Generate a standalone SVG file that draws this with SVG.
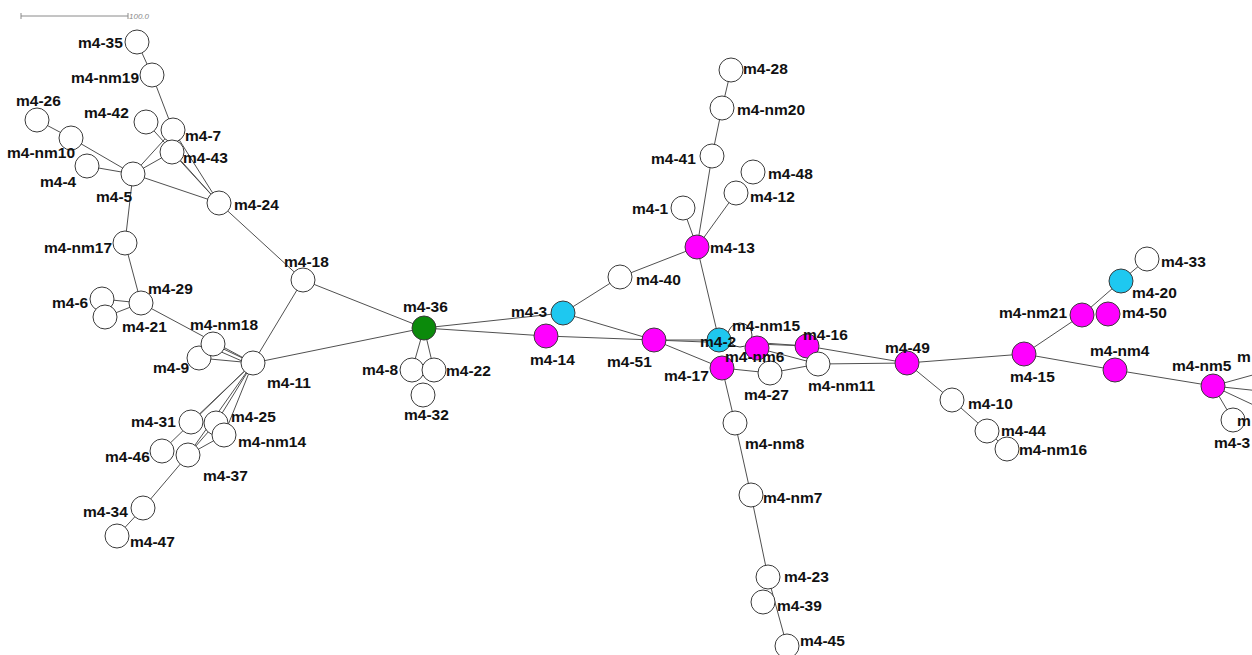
<svg xmlns="http://www.w3.org/2000/svg" width="1252" height="655" viewBox="0 0 1252 655">
<style>
.e{stroke:#505050;stroke-width:1;fill:none}
.n{stroke:#3a3a3a;stroke-width:1}
.w{fill:#ffffff}
.m{fill:#ff00ff}
.c{fill:#1ec8f0}
.g{fill:#0b8a0b}
text{font-family:"Liberation Sans",Arial,sans-serif;font-weight:bold;font-size:15.5px;fill:#111}
.sb{stroke:#8a8a8a;stroke-width:1}
.st{font-size:8px;font-style:italic;font-weight:normal;fill:#8a8a8a}
</style>
<rect width="1252" height="655" fill="#ffffff"/>
<g id="scalebar">
<line class="sb" x1="21" y1="16" x2="128" y2="16"/>
<line class="sb" x1="21" y1="13" x2="21" y2="19"/>
<line class="sb" x1="128" y1="13" x2="128" y2="19"/>
<text class="st" x="129" y="19">100.0</text>
</g>
<g id="connectors">
<line class="e" x1="137" y1="42" x2="152" y2="75"/>
<line class="e" x1="152" y1="75" x2="173" y2="130"/>
<line class="e" x1="37" y1="120" x2="71" y2="138"/>
<line class="e" x1="71" y1="138" x2="133" y2="174"/>
<line class="e" x1="87" y1="166" x2="133" y2="174"/>
<line class="e" x1="133" y1="174" x2="173" y2="130"/>
<line class="e" x1="133" y1="174" x2="172" y2="152"/>
<line class="e" x1="133" y1="174" x2="219" y2="203"/>
<line class="e" x1="146" y1="122" x2="219" y2="203"/>
<line class="e" x1="173" y1="130" x2="219" y2="203"/>
<line class="e" x1="172" y1="152" x2="219" y2="203"/>
<line class="e" x1="133" y1="174" x2="125" y2="243"/>
<line class="e" x1="125" y1="243" x2="141" y2="303"/>
<line class="e" x1="102" y1="299" x2="141" y2="303"/>
<line class="e" x1="105" y1="317" x2="141" y2="303"/>
<line class="e" x1="141" y1="303" x2="253" y2="363"/>
<line class="e" x1="213" y1="344" x2="253" y2="363"/>
<line class="e" x1="210" y1="347" x2="251" y2="365"/>
<line class="e" x1="199" y1="358" x2="253" y2="363"/>
<line class="e" x1="219" y1="203" x2="303" y2="280"/>
<line class="e" x1="303" y1="280" x2="253" y2="363"/>
<line class="e" x1="303" y1="280" x2="424" y2="328"/>
<line class="e" x1="253" y1="363" x2="424" y2="328"/>
<line class="e" x1="253" y1="363" x2="191" y2="422"/>
<line class="e" x1="253" y1="363" x2="162" y2="451"/>
<line class="e" x1="253" y1="363" x2="216" y2="423"/>
<line class="e" x1="253" y1="363" x2="224" y2="435"/>
<line class="e" x1="253" y1="363" x2="188" y2="455"/>
<line class="e" x1="216" y1="423" x2="188" y2="455"/>
<line class="e" x1="224" y1="435" x2="188" y2="455"/>
<line class="e" x1="188" y1="455" x2="143" y2="508"/>
<line class="e" x1="143" y1="508" x2="117" y2="536"/>
<line class="e" x1="424" y1="328" x2="412" y2="370"/>
<line class="e" x1="424" y1="328" x2="434" y2="370"/>
<line class="e" x1="424" y1="328" x2="563" y2="313"/>
<line class="e" x1="424" y1="328" x2="546" y2="336"/>
<line class="e" x1="546" y1="336" x2="654" y2="340"/>
<line class="e" x1="563" y1="313" x2="620" y2="277"/>
<line class="e" x1="563" y1="313" x2="654" y2="340"/>
<line class="e" x1="620" y1="277" x2="697" y2="247"/>
<line class="e" x1="731" y1="70" x2="722" y2="108"/>
<line class="e" x1="722" y1="108" x2="712" y2="156"/>
<line class="e" x1="712" y1="156" x2="697" y2="247"/>
<line class="e" x1="683" y1="208" x2="697" y2="247"/>
<line class="e" x1="736" y1="193" x2="697" y2="247"/>
<line class="e" x1="697" y1="247" x2="719" y2="340"/>
<line class="e" x1="654" y1="340" x2="719" y2="340"/>
<line class="e" x1="654" y1="340" x2="807" y2="346"/>
<line class="e" x1="654" y1="340" x2="722" y2="368"/>
<line class="e" x1="719" y1="340" x2="807" y2="346"/>
<line class="e" x1="757" y1="348" x2="818" y2="364"/>
<line class="e" x1="807" y1="346" x2="907" y2="363"/>
<line class="e" x1="818" y1="364" x2="907" y2="363"/>
<line class="e" x1="722" y1="368" x2="770" y2="373"/>
<line class="e" x1="770" y1="373" x2="818" y2="364"/>
<line class="e" x1="722" y1="368" x2="735" y2="423"/>
<line class="e" x1="735" y1="423" x2="751" y2="495"/>
<line class="e" x1="751" y1="495" x2="768" y2="577"/>
<line class="e" x1="768" y1="577" x2="787" y2="646"/>
<line class="e" x1="907" y1="363" x2="1024" y2="354"/>
<line class="e" x1="907" y1="363" x2="952" y2="400"/>
<line class="e" x1="952" y1="400" x2="987" y2="431"/>
<line class="e" x1="987" y1="431" x2="1007" y2="449"/>
<line class="e" x1="1024" y1="354" x2="1082" y2="315"/>
<line class="e" x1="1082" y1="315" x2="1121" y2="281"/>
<line class="e" x1="1121" y1="281" x2="1147" y2="259"/>
<line class="e" x1="1024" y1="354" x2="1115" y2="370"/>
<line class="e" x1="1115" y1="370" x2="1213" y2="386"/>
<line class="e" x1="1213" y1="386" x2="1260" y2="373"/>
<line class="e" x1="1213" y1="386" x2="1260" y2="391"/>
<line class="e" x1="1213" y1="386" x2="1260" y2="408"/>
<line class="e" x1="1213" y1="386" x2="1233" y2="420"/>
</g>
<g id="m4-35"><circle class="n w" cx="137" cy="42" r="12"/><text x="78" y="48">m4-35</text></g>
<g id="m4-nm19"><circle class="n w" cx="152" cy="75" r="12"/><text x="71" y="83">m4-nm19</text></g>
<g id="m4-26"><circle class="n w" cx="37" cy="120" r="12"/><text x="16" y="106">m4-26</text></g>
<g id="m4-42"><circle class="n w" cx="146" cy="122" r="12"/><text x="84" y="118">m4-42</text></g>
<g id="m4-7"><circle class="n w" cx="173" cy="130" r="12"/><text x="185" y="141">m4-7</text></g>
<g id="m4-nm10"><circle class="n w" cx="71" cy="138" r="12"/><text x="7" y="158">m4-nm10</text></g>
<g id="m4-43"><circle class="n w" cx="172" cy="152" r="12"/><text x="183" y="163">m4-43</text></g>
<g id="m4-4"><circle class="n w" cx="87" cy="166" r="12"/><text x="40" y="187">m4-4</text></g>
<g id="m4-5"><circle class="n w" cx="133" cy="174" r="12"/><text x="96" y="202">m4-5</text></g>
<g id="m4-24"><circle class="n w" cx="219" cy="203" r="12"/><text x="234" y="210">m4-24</text></g>
<g id="m4-nm17"><circle class="n w" cx="125" cy="243" r="12"/><text x="44" y="253">m4-nm17</text></g>
<g id="m4-6"><circle class="n w" cx="102" cy="299" r="12"/><text x="52" y="308">m4-6</text></g>
<g id="m4-21"><circle class="n w" cx="105" cy="317" r="12"/><text x="122" y="332">m4-21</text></g>
<g id="m4-29"><circle class="n w" cx="141" cy="303" r="12"/><text x="148" y="294">m4-29</text></g>
<g id="m4-9"><circle class="n w" cx="199" cy="358" r="12"/><text x="153" y="373">m4-9</text></g>
<g id="m4-nm18"><circle class="n w" cx="213" cy="344" r="12"/><text x="190" y="330">m4-nm18</text></g>
<g id="m4-11"><circle class="n w" cx="253" cy="363" r="12"/><text x="267" y="388">m4-11</text></g>
<g id="m4-18"><circle class="n w" cx="303" cy="280" r="12"/><text x="284" y="267">m4-18</text></g>
<g id="m4-31"><circle class="n w" cx="191" cy="422" r="12"/><text x="131" y="427">m4-31</text></g>
<g id="m4-25"><circle class="n w" cx="216" cy="423" r="12"/><text x="231" y="422">m4-25</text></g>
<g id="m4-nm14"><circle class="n w" cx="224" cy="435" r="12"/><text x="238" y="447">m4-nm14</text></g>
<g id="m4-46"><circle class="n w" cx="162" cy="451" r="12"/><text x="105" y="462">m4-46</text></g>
<g id="m4-37"><circle class="n w" cx="188" cy="455" r="12"/><text x="203" y="481">m4-37</text></g>
<g id="m4-34"><circle class="n w" cx="143" cy="508" r="12"/><text x="83" y="517">m4-34</text></g>
<g id="m4-47"><circle class="n w" cx="117" cy="536" r="12"/><text x="130" y="547">m4-47</text></g>
<g id="m4-36"><circle class="n g" cx="424" cy="328" r="12"/><text x="403" y="312">m4-36</text></g>
<g id="m4-32"><circle class="n w" cx="423" cy="395" r="12"/><text x="404" y="420">m4-32</text></g>
<g id="m4-8"><circle class="n w" cx="412" cy="370" r="12"/><text x="362" y="375">m4-8</text></g>
<g id="m4-22"><circle class="n w" cx="434" cy="370" r="12"/><text x="446" y="376">m4-22</text></g>
<g id="m4-3"><circle class="n c" cx="563" cy="313" r="12"/><text x="511" y="317">m4-3</text></g>
<g id="m4-14"><circle class="n m" cx="546" cy="336" r="12"/><text x="530" y="365">m4-14</text></g>
<g id="m4-40"><circle class="n w" cx="620" cy="277" r="12"/><text x="636" y="285">m4-40</text></g>
<g id="m4-28"><circle class="n w" cx="731" cy="70" r="12"/><text x="743" y="74">m4-28</text></g>
<g id="m4-nm20"><circle class="n w" cx="722" cy="108" r="12"/><text x="737" y="115">m4-nm20</text></g>
<g id="m4-41"><circle class="n w" cx="712" cy="156" r="12"/><text x="651" y="164">m4-41</text></g>
<g id="m4-48"><circle class="n w" cx="753" cy="172" r="12"/><text x="768" y="179">m4-48</text></g>
<g id="m4-12"><circle class="n w" cx="736" cy="193" r="12"/><text x="750" y="202">m4-12</text></g>
<g id="m4-1"><circle class="n w" cx="683" cy="208" r="12"/><text x="632" y="214">m4-1</text></g>
<g id="m4-13"><circle class="n m" cx="697" cy="247" r="12"/><text x="710" y="253">m4-13</text></g>
<g id="m4-51"><circle class="n m" cx="654" cy="340" r="12"/><text x="607" y="367">m4-51</text></g>
<g id="m4-nm15"><circle class="n w" cx="740" cy="335" r="12"/></g>
<g id="m4-2"><circle class="n c" cx="719" cy="340" r="12"/></g>
<g id="m4-nm6"><circle class="n m" cx="757" cy="348" r="12"/></g>
<g id="m4-16"><circle class="n m" cx="807" cy="346" r="12"/></g>
<g id="m4-17"><circle class="n m" cx="722" cy="368" r="12"/></g>
<g id="m4-27"><circle class="n w" cx="770" cy="373" r="12"/></g>
<g id="m4-nm11"><circle class="n w" cx="818" cy="364" r="12"/></g>
<g id="mid-labels">
<text x="732" y="331">m4-nm15</text>
<text x="700" y="347">m4-2</text>
<text x="725" y="362">m4-nm6</text>
<text x="803" y="340">m4-16</text>
<text x="664" y="381">m4-17</text>
<text x="744" y="400">m4-27</text>
<text x="808" y="391">m4-nm11</text>
</g>
<g id="m4-nm8"><circle class="n w" cx="735" cy="423" r="12"/><text x="745" y="449">m4-nm8</text></g>
<g id="m4-nm7"><circle class="n w" cx="751" cy="495" r="12"/><text x="763" y="503">m4-nm7</text></g>
<g id="m4-23"><circle class="n w" cx="768" cy="577" r="12"/><text x="784" y="582">m4-23</text></g>
<g id="m4-39"><circle class="n w" cx="763" cy="602" r="12"/><text x="777" y="611">m4-39</text></g>
<g id="m4-45"><circle class="n w" cx="787" cy="646" r="12"/><text x="800" y="646">m4-45</text></g>
<g id="m4-49"><circle class="n m" cx="907" cy="363" r="12"/><text x="885" y="353">m4-49</text></g>
<g id="m4-10"><circle class="n w" cx="952" cy="400" r="12"/><text x="968" y="409">m4-10</text></g>
<g id="m4-44"><circle class="n w" cx="987" cy="431" r="12"/><text x="1001" y="436">m4-44</text></g>
<g id="m4-nm16"><circle class="n w" cx="1007" cy="449" r="12"/><text x="1019" y="455">m4-nm16</text></g>
<g id="m4-15"><circle class="n m" cx="1024" cy="354" r="12"/><text x="1010" y="382">m4-15</text></g>
<g id="m4-nm21"><circle class="n m" cx="1082" cy="315" r="12"/><text x="999" y="318">m4-nm21</text></g>
<g id="m4-50"><circle class="n m" cx="1108" cy="314" r="12"/><text x="1122" y="318">m4-50</text></g>
<g id="m4-20"><circle class="n c" cx="1121" cy="281" r="12"/><text x="1132" y="298">m4-20</text></g>
<g id="m4-33"><circle class="n w" cx="1147" cy="259" r="12"/><text x="1161" y="267">m4-33</text></g>
<g id="m4-nm4"><circle class="n m" cx="1115" cy="370" r="12"/><text x="1090" y="356">m4-nm4</text></g>
<g id="m4-nm5"><circle class="n m" cx="1213" cy="386" r="12"/><text x="1172" y="371">m4-nm5</text></g>
<g id="edge-node"><circle class="n w" cx="1233" cy="420" r="12"/><text x="1214" y="448">m4-3</text></g>
<g id="edge-labels">
<text x="1237" y="362">m</text>
<text x="1237" y="426">m</text>
</g>
</svg>
